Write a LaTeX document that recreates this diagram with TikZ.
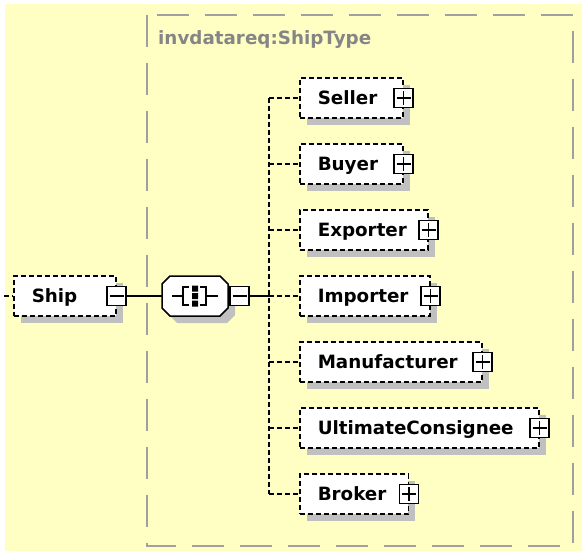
\documentclass[tikz,border=0pt]{standalone}
\usepackage{fontspec}
\setmainfont{DejaVu Sans}
\usetikzlibrary{shadows}
\definecolor{bgyellow}{HTML}{FFFFC4}
\definecolor{shadowgray}{HTML}{C0C0C0}
\definecolor{typegray}{HTML}{A0A0A0}
\definecolor{labelgray}{HTML}{858585}
\begin{document}
\begin{tikzpicture}[x=1pt,y=-1pt,
  txt/.style={font=\fontsize{18.3}{20}\selectfont\bfseries},
  elem/.style={txt, draw, dash pattern=on 5pt off 3pt, line width=1.5pt, fill=white,
    minimum height=40pt, anchor=west, inner xsep=18pt, inner ysep=0pt, align=left,
    text height=13.3pt, text depth=0pt,
    drop shadow={shadow xshift=7pt, shadow yshift=-7pt, fill=shadowgray, opacity=1}},
  sqw/.style={draw, line width=1.4pt, fill=white, minimum size=19pt, inner sep=0pt, anchor=center},
  pluswidget/.style={sqw, path picture={
    \draw[line width=1.4pt] ([xshift=-7pt]path picture bounding box.center) -- ([xshift=7pt]path picture bounding box.center)
      ([yshift=-7pt]path picture bounding box.center) -- ([yshift=7pt]path picture bounding box.center);}},
  minuswidget/.style={sqw, path picture={
    \draw[line width=1.4pt] ([xshift=-7pt]path picture bounding box.center) -- ([xshift=7pt]path picture bounding box.center);}},
  conn/.style={line width=1.5pt},
  dconn/.style={line width=1.5pt, dash pattern=on 5pt off 3pt},
  typebox/.style={typegray, line width=1.8pt, dash pattern=on 32pt off 16pt}
]
\useasboundingbox (0,0) rectangle (582,551);
\fill[bgyellow] (5,4) rectangle (582,551);

% type box
\draw[typebox] (147,15) rectangle (573,546);
\node[txt, anchor=base west, text=labelgray, inner sep=0pt] (typelabel) at (158,45) {invdatareq:ShipType};

% root element
\node[elem, text width=66pt] (ship) at (13,296) {Ship};
\node[minuswidget] (shipm) at (ship.east) {};
\coordinate (in) at (4,296);
\draw[dconn] (in) -- (ship.west);

% sequence compositor
\node[minimum width=66pt, minimum height=40pt, inner sep=0pt] (seq) at (195,296) {};
\fill[shadowgray] (177,283) -- (227,283) -- (235,291) -- (235,315) -- (227,323) -- (177,323) -- (169,315) -- (169,291) -- cycle;
\draw[line width=1.5pt, fill=white] (170,276) -- (220,276) -- (228,284) -- (228,308) -- (220,316) -- (170,316) -- (162,308) -- (162,284) -- cycle;
\draw[line width=1.5pt] (172,296) -- (183,296) (189,287) -- (183,287) -- (183,305) -- (189,305)
  (218,296) -- (206,296) (200,287) -- (206,287) -- (206,305) -- (200,305);
\fill (192,285.5) rectangle (198,291.5) (192,293) rectangle (198,299) (192,300.5) rectangle (198,306.5);
\node[minuswidget] (seqm) at (239.5,296) {};

% children
\node[elem, text width=67pt]  (seller) at (299,98)  {Seller};
\node[elem, text width=67pt]  (buyer)  at (299,164) {Buyer};
\node[elem, text width=92pt]  (exporter) at (299,230) {Exporter};
\node[elem, text width=94pt]  (importer) at (299,296) {Importer};
\node[elem, text width=146pt] (manufacturer) at (299,362) {Manufacturer};
\node[elem, text width=203pt] (consignee) at (299,428) {UltimateConsignee};
\node[elem, text width=72.5pt] (broker) at (299,494) {Broker};
\foreach \n in {seller,buyer,exporter,importer,manufacturer,consignee,broker}{
  \node[pluswidget] (\n p) at (\n.east) {};
}

% connectors
\draw[conn] (shipm.east) -- (seq.west);
\coordinate (j) at (269,296);
\draw[conn] (seqm.east) -- (j);
\draw[dconn] (j |- seller.west) -- (j |- broker.west);
\foreach \n in {seller,buyer,exporter,importer,manufacturer,consignee,broker}{
  \draw[dconn] (j |- \n.west) -- (\n.west);
}
\end{tikzpicture}
\end{document}
